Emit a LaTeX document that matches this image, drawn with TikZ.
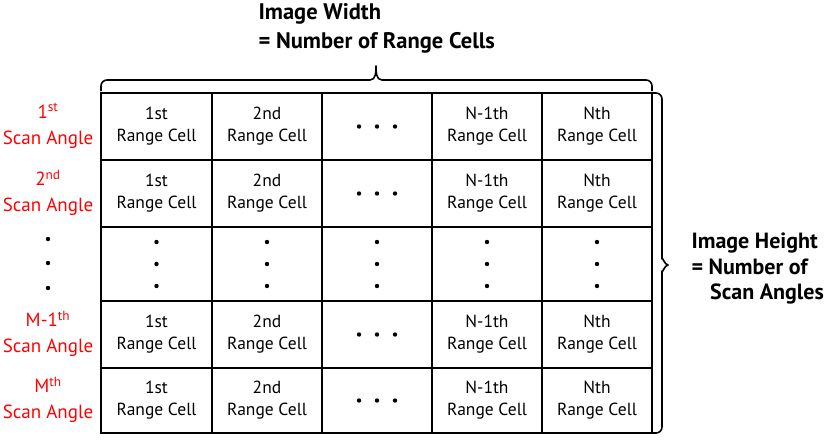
\documentclass[tikz,border=0pt]{standalone}
\usepackage{fontspec}
\setmainfont{PT Sans}
\begin{document}
\begin{tikzpicture}[x=1pt,y=-1pt,
  cellbox/.style={draw,line width=1.6pt,inner sep=0pt,outer sep=0pt,align=center,font=\fontsize{17.5}{22}\selectfont},
  rowlabel/.style={align=center,text=red,font=\fontsize{19}{26}\selectfont},
  bigtext/.style={align=left,font=\bfseries\fontsize{22.5}{29}\selectfont},
  sidetext/.style={align=left,font=\bfseries\fontsize{22}{25.5}\selectfont},
  bracepath/.style={line width=1.6pt,line join=round},
  dotmark/.style={circle,fill=black,inner sep=0pt,minimum size=4.4pt}]
\useasboundingbox (0,0) rectangle (827,440);
% column x-edges: 101,212,322,432,542,652 ; row y-edges: 93,160,227,301,368,433
\def\colA{156.5}\def\colB{267}\def\colC{377}\def\colD{487}\def\colE{597}
\foreach \r/\cy/\h in {1/126.5/67, 2/193.5/67, 4/334.5/67, 5/400.5/65}{
  \node[cellbox,minimum width=111pt,minimum height=\h pt] (c\r1) at (\colA,\cy) {1st\\Range Cell};
  \node[cellbox,minimum width=110pt,minimum height=\h pt] (c\r2) at (\colB,\cy) {2nd\\Range Cell};
  \node[cellbox,minimum width=110pt,minimum height=\h pt] (c\r3) at (\colC,\cy) {};
  \node[cellbox,minimum width=110pt,minimum height=\h pt] (c\r4) at (\colD,\cy) {N-1th\\Range Cell};
  \node[cellbox,minimum width=110pt,minimum height=\h pt] (c\r5) at (\colE,\cy) {Nth\\Range Cell};
  \node[dotmark] (h\r a) at ([xshift=-18pt]c\r3.center) {};
  \node[dotmark] (h\r b) at (c\r3.center) {};
  \node[dotmark] (h\r c) at ([xshift=18pt]c\r3.center) {};
}
\foreach \c/\cx/\w in {1/\colA/111,2/\colB/110,3/\colC/110,4/\colD/110,5/\colE/110}{
  \node[cellbox,minimum width=\w pt,minimum height=74pt] (c3\c) at (\cx,264) {};
  \node[dotmark] (v\c a) at ([yshift=-22pt]c3\c.center) {};
  \node[dotmark] (v\c b) at (c3\c.center) {};
  \node[dotmark] (v\c c) at ([yshift=22pt]c3\c.center) {};
}
% row labels
\node[rowlabel] (r1) at (48,126) {1\textsuperscript{st}\\Scan Angle};
\node[rowlabel] (r2) at (48,193) {2\textsuperscript{nd}\\Scan Angle};
\node[dotmark] (ld1) at (48,239) {};
\node[dotmark] (ld2) at (48,263) {};
\node[dotmark] (ld3) at (48,288) {};
\node[rowlabel] (r4) at (48,334) {M-1\textsuperscript{th}\\Scan Angle};
\node[rowlabel] (r5) at (48,400) {M\textsuperscript{th}\\Scan Angle};
% top brace
\coordinate (tb) at (376,66);
\draw[bracepath] (101,91) -- (101,86) arc[start angle=180,end angle=270,radius=6] -- (370,80)
  to[out=0,in=-90] (tb) to[out=-90,in=180] (382,80) -- (646,80) arc[start angle=270,end angle=360,radius=6] -- (652,91);
% right brace
\coordinate (rb) at (668,265);
\draw[bracepath] (c15.north east) -- (656,93) arc[start angle=270,end angle=360,radius=6] -- (662,259)
  to[out=90,in=180] (rb) to[out=180,in=-90] (662,271) -- (662,427) arc[start angle=0,end angle=90,radius=6] -- (c55.south east);
% labels
\node[bigtext,anchor=north west] (wlab) at (255,0) {Image Width\\= Number of Range Cells};
\node[sidetext,anchor=west] (hlab) at (688,269) {Image Height\\= Number of\\\hspace*{0.85em}Scan Angles};
\end{tikzpicture}
\end{document}
